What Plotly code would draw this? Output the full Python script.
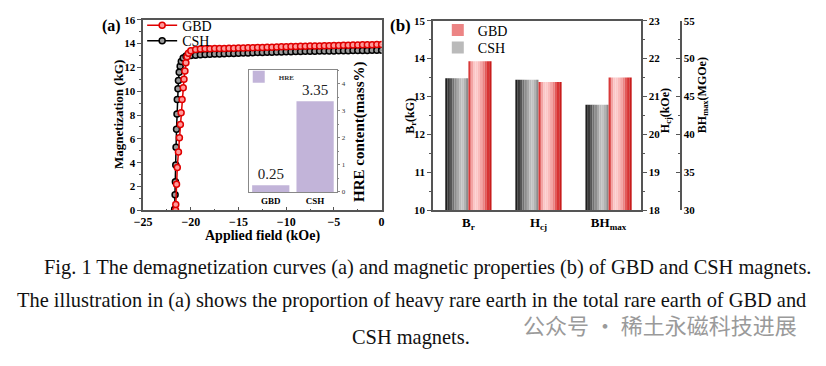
import plotly.graph_objects as go

W, H = 826, 366
SERIF = "Liberation Serif"
OFF = 8  # browser default body margin

# ---------------- Panel (a) demagnetization curves ----------------
gbd_h = [-21.6, -21.58, -21.5, -21.42, -21.3, -21.2, -21.1, -21.02, -20.92, -20.8,
         -20.72, -20.62, -20.52, -20.4, -20.25, -20.0,
         -19.5, -19.0, -18.5, -18.0, -17.5, -17.0, -16.5, -16.0, -15.5, -15.0,
         -14.5, -14.0, -13.5, -13.0, -12.5, -12.0, -11.5, -11.0, -10.5, -10.0,
         -9.5, -9.0, -8.5, -8.0, -7.5, -7.0, -6.5, -6.0, -5.5, -5.0,
         -4.5, -4.0, -3.5, -3.0, -2.5, -2.0, -1.5, -1.0, -0.5, 0.0]
gbd_m = [0.0, 0.5, 2.2, 3.6, 4.9, 6.1, 7.2, 8.2, 9.3, 10.3,
         11.0, 11.7, 12.4, 12.9, 13.2, 13.4,
         13.50, 13.55, 13.56, 13.57, 13.58, 13.59, 13.60, 13.61, 13.62, 13.63,
         13.64, 13.65, 13.66, 13.67, 13.68, 13.69, 13.70, 13.72, 13.73, 13.74,
         13.75, 13.76, 13.77, 13.78, 13.79, 13.80, 13.81, 13.82, 13.83, 13.84,
         13.85, 13.86, 13.87, 13.88, 13.89, 13.90, 13.91, 13.91, 13.92, 13.93]

csh_h = [-21.7, -21.65, -21.62, -21.58, -21.55, -21.5, -21.45, -21.42, -21.35, -21.3,
         -21.22, -21.12, -21.0, -20.8, -20.5, -20.0,
         -19.5, -19.0, -18.5, -18.0, -17.5, -17.0, -16.5, -16.0, -15.5, -15.0,
         -14.5, -14.0, -13.5, -13.0, -12.5, -12.0, -11.5, -11.0, -10.5, -10.0,
         -9.5, -9.0, -8.5, -8.0, -7.5, -7.0, -6.5, -6.0, -5.5, -5.0,
         -4.5, -4.0, -3.5, -3.0, -2.5, -2.0, -1.5, -1.0, -0.5, 0.0]
csh_m = [0.1, 1.3, 2.4, 3.8, 5.3, 6.8, 8.1, 9.3, 10.2, 10.9,
         11.6, 12.1, 12.5, 12.8, 12.95, 13.0,
         13.03, 13.06, 13.08, 13.10, 13.12, 13.13, 13.15, 13.16, 13.18, 13.19,
         13.21, 13.22, 13.24, 13.25, 13.26, 13.27, 13.28, 13.29, 13.30, 13.31,
         13.32, 13.33, 13.34, 13.35, 13.35, 13.36, 13.37, 13.38, 13.38, 13.39,
         13.40, 13.40, 13.41, 13.42, 13.42, 13.43, 13.43, 13.44, 13.45, 13.45]

# inset: HRE content
hre_cats = ["GBD", "CSH"]
hre_vals = [0.25, 3.35]
hre_text = ["0.25", "3.35"]

# ---------------- Panel (b) magnetic properties ----------------
prop_labels = ["B<sub>r</sub>", "H<sub>cj</sub>", "BH<sub>max</sub>"]
csh_props = [13.48, 21.44, 43.9]   # Br (kG), Hcj (kOe), BHmax (MGOe)
gbd_props = [13.93, 21.38, 47.5]

a_xticks = [-25, -20, -15, -10, -5, 0]
a_yticks = [0, 2, 4, 6, 8, 10, 12, 14, 16]


def px(x):
    return (x - OFF) / W


def py(y):
    return 1 - (y - OFF) / H


fig = go.Figure()

# curves
fig.add_trace(go.Scatter(
    x=csh_h, y=csh_m, mode="lines+markers", name="CSH", legend="legend4",
    line=dict(color="black", width=1.5),
    marker=dict(symbol="circle", size=6, color="#9a9a9a", line=dict(color="black", width=1.5)),
    xaxis="x", yaxis="y"))
fig.add_trace(go.Scatter(
    x=gbd_h, y=gbd_m, mode="lines+markers", name="GBD", legend="legend",
    line=dict(color="#e00000", width=1.5),
    marker=dict(symbol="circle", size=6, color="#ff9a9a", line=dict(color="#e00000", width=1.5)),
    xaxis="x", yaxis="y"))

# inset bars
fig.add_trace(go.Bar(
    x=hre_cats, y=hre_vals, name="HRE", legend="legend3", width=0.84,
    marker=dict(color="#c2b4d9", line=dict(width=0)),
    text=hre_text, textposition="outside", cliponaxis=False,
    textfont=dict(family=SERIF, size=15, color="#222"),
    xaxis="x2", yaxis="y2"))

# panel (b) gradient bars built from strips
N = 10
bw = 0.33
csh_cols = ["#1e1e1e", "#3a3a3a", "#565656", "#727272", "#8e8e8e",
            "#a8a8a8", "#bababa", "#c2c2c2", "#b2b2b2", "#8c8c8c"]
gbd_cols = ["#d83a3a", "#f3a4a4", "#fbc6c6", "#fcc9c9", "#f9bcbc",
            "#f4a6a6", "#ec8484", "#e25a5a", "#d83434", "#c81c1c"]
yaxes_b = ["y3", "y4", "y5"]
for k in range(3):
    for s, (vals, cols, base, name, leg) in enumerate([
            (csh_props, csh_cols, -bw, "CSH", "legend5"),
            (gbd_props, gbd_cols, 0.0, "GBD", "legend2")]):
        for i in range(N):
            fig.add_trace(go.Bar(
                x=[k], y=[vals[k]], width=bw / N, offset=base + i * bw / N,
                marker=dict(color=cols[i], line=dict(width=0)),
                name=name, legend=leg,
                showlegend=(k == 0 and i == 6),
                xaxis="x3", yaxis=yaxes_b[k], hoverinfo="skip"))

tickfont_a = dict(family=SERIF, size=12, color="black", weight="bold")
tickfont_b = dict(family=SERIF, size=11, color="black", weight="bold")
frame = "#555555"


def leg(x, y, size, weight="normal", color="black", iw=30):
    return dict(x=px(x), y=py(y), xanchor="left", yanchor="middle",
                bgcolor="rgba(0,0,0,0)", borderwidth=0, itemwidth=iw,
                font=dict(family=SERIF, size=size, color=color, weight=weight))


fig.update_layout(
    width=W, height=H, margin=dict(l=0, r=0, t=0, b=0),
    paper_bgcolor="white", plot_bgcolor="rgba(0,0,0,0)",
    barmode="overlay", showlegend=True,
    font=dict(family=SERIF, color="black"),
    xaxis=dict(domain=[px(136), px(378)], range=[-25, 0], anchor="y",
               tickvals=a_xticks, showline=True, mirror=True, linecolor=frame, linewidth=1.5,
               ticks="inside", ticklen=4, tickcolor=frame, showgrid=False, zeroline=False,
               minor=dict(ticks="inside", ticklen=2, dtick=2.5, tickcolor=frame),
               tickfont=tickfont_a),
    yaxis=dict(domain=[py(211), py(14)], range=[0, 16], anchor="x",
               tickvals=a_yticks, showline=True, mirror=True, linecolor=frame, linewidth=1.5,
               ticks="outside", ticklen=4, tickcolor=frame, showgrid=False, zeroline=False,
               minor=dict(ticks="outside", ticklen=2, dtick=1, tickcolor=frame),
               tickfont=tickfont_b),
    xaxis2=dict(domain=[px(243), px(333)], range=[-0.5, 1.5], anchor="y2", type="category",
                showline=True, mirror=True, linecolor="#888", linewidth=1,
                ticks="", showgrid=False, zeroline=False,
                tickfont=dict(family=SERIF, size=9, color="black", weight="bold")),
    yaxis2=dict(domain=[py(192), py(66)], range=[0, 4.5], anchor="x2", side="right",
                tickvals=[0, 1, 2, 3, 4], showline=True, mirror=True, linecolor="#888", linewidth=1,
                ticks="outside", ticklen=2, tickcolor="#888", showgrid=False, zeroline=False,
                minor=dict(ticks="outside", ticklen=1, dtick=0.5, tickcolor="#888"),
                tickfont=dict(family=SERIF, size=7, color="#333")),
    xaxis3=dict(domain=[px(430), px(641)], range=[-0.507, 2.46], anchor="y3",
                tickvals=[0, 1, 2], ticktext=prop_labels, showline=True, mirror=True,
                linecolor=frame, linewidth=1.5, ticks="", showgrid=False, zeroline=False,
                tickfont=dict(family=SERIF, size=13, color="black", weight="bold")),
    yaxis3=dict(domain=[py(210.7), py(15)], range=[10, 15], anchor="x3",
                tickvals=[10, 11, 12, 13, 14, 15], showline=True, linecolor=frame, linewidth=1.5,
                ticks="outside", ticklen=4, tickcolor=frame, showgrid=False, zeroline=False,
                minor=dict(ticks="outside", ticklen=2, dtick=0.5, tickcolor=frame),
                tickfont=tickfont_b),
    yaxis4=dict(range=[18, 23], overlaying="y3", side="right", anchor="x3",
                tickvals=[18, 19, 20, 21, 22, 23], showline=True, linecolor=frame, linewidth=1.5,
                ticks="outside", ticklen=4, tickcolor=frame, showgrid=False, zeroline=False,
                minor=dict(ticks="outside", ticklen=2, dtick=0.5, tickcolor=frame),
                tickfont=tickfont_b),
    yaxis5=dict(range=[30, 55], overlaying="y3", side="right", anchor="free",
                position=px(681.5),
                tickvals=[30, 35, 40, 45, 50, 55], showline=True, linecolor=frame, linewidth=1.5,
                ticks="inside", ticklen=4, tickcolor=frame, showgrid=False, zeroline=False,
                minor=dict(ticks="inside", ticklen=2, dtick=2.5, tickcolor=frame),
                tickfont=tickfont_b),
    legend=leg(135, 20, 14),
    legend4=leg(135, 36, 14),
    legend2=leg(435, 25, 14),
    legend5=leg(435, 43, 14),
    legend3=leg(233, 73, 7, weight="bold", color="#333"),
)


def note(text, x, y, size, angle=0, family=SERIF, color="black", xanchor="center"):
    return dict(text=text, x=px(x), y=py(y), xref="paper", yref="paper",
                xanchor=xanchor, yanchor="middle", showarrow=False, textangle=angle,
                font=dict(family=family, size=size, color=color))


cap_col = "#111"
ann = [
    note("<b>(a)</b>", 104, 20, 16),
    note("<b>(b)</b>", 397, 20, 17),
    note("<b>Applied field (kOe)</b>", 257, 238, 14),
    note("<b>Magnetization (kG)</b>", 111, 112, 13, -90),
    note("<b>HRE content(mass%)</b>", 356, 130, 15, -90),
    note("<b>B<sub>r</sub>(kG)</b>", 407, 113, 12, -90),
    note("<b>H<sub>cj</sub>(kOe)</b>", 666, 108, 12, -90),
    note("<b>BH<sub>max</sub>(MGOe)</b>", 704, 92, 12, -90),
    note("Fig. 1 The demagnetization curves (a) and magnetic properties (b) of GBD and CSH magnets.",
         425, 270, 20.4, color=cap_col),
    note("The illustration in (a) shows the proportion of heavy rare earth in the total rare earth of GBD and",
         408, 304, 20.4, color=cap_col),
    note("CSH magnets.", 408, 342, 20.4, color=cap_col),
    note("公众号 · 稀土永磁科技进展", 519, 329, 22, family="Noto Sans CJK SC",
         color="#9a9a9a", xanchor="left"),
]
fig.update_layout(annotations=ann)

fig.write_html("out.html")
